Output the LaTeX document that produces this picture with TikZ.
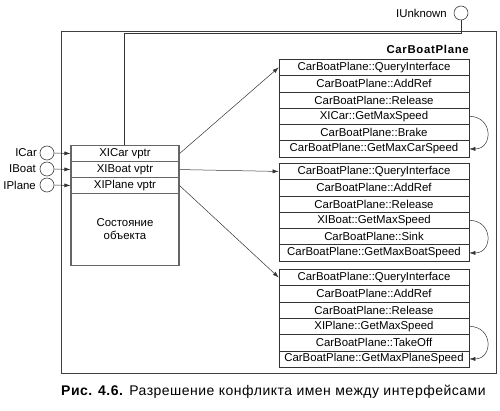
\documentclass[tikz,border=0pt]{standalone}
\usepackage{fontspec}
\setmainfont{Liberation Sans}
\newfontfamily\spacedfont[LetterSpace=6]{Liberation Sans}
\newfontfamily\capfont[LetterSpace=3.5]{Liberation Sans}
\usetikzlibrary{arrows.meta,calc}
\begin{document}
\begin{tikzpicture}[x=1pt,y=-1pt,
  lbl/.style={font=\fontsize{11.4}{13}\selectfont, inner sep=0pt},
  row/.style={draw=black!80, line width=0.6pt, minimum width=190pt, minimum height=16.3pt, inner sep=0pt, anchor=north, font=\fontsize{11.4}{13}\selectfont},
  vrow/.style={draw=black!60, line width=1.1pt, minimum width=108pt, minimum height=16pt, inner sep=0pt, anchor=north, font=\fontsize{11.4}{13}\selectfont},
  iface/.style={circle, draw=black!75, line width=0.6pt, minimum size=14pt, inner sep=0pt},
  arr/.style={-{Latex[length=6pt,width=4pt]}, line width=0.5pt, draw=black!80},
  frame/.style={draw=black!75, line width=0.7pt}
]
\useasboundingbox (0,0) rectangle (500,411);
% outer frame
\draw[frame] (61,31) rectangle (496,373);
\node[lbl, font=\spacedfont\bfseries\fontsize{11.4}{13}\selectfont, anchor=east] (title) at (469,49.5) {CarBoatPlane};
% IUnknown
\node[iface] (iu) at (461,13) {};
\node[lbl, anchor=east] (iul) at (447,13) {IUnknown};
% object box
\node[vrow] (vr1) at (125,145) {XICar vptr};
\node[vrow] (vr2) at (125,161) {XIBoat vptr};
\node[vrow] (vr3) at (125,177) {XIPlane vptr};
\node[vrow, minimum height=72pt, align=center] (st) at (125,193) {Состояние\\объекта};
% IUnknown connector
\coordinate (c1) at (124,33);
\draw[line width=0.6pt, black!80] (iu.south) |- (c1) -- (c1 |- vr1.north);
% interfaces
\node[iface] (ic) at (47,153) {};
\node[iface] (ib) at (47,169) {};
\node[iface] (ip) at (47,185) {};
\node[lbl, anchor=east] (icl) at (37,153) {ICar};
\node[lbl, anchor=east] (ibl) at (36,169) {IBoat};
\node[lbl, anchor=east] (ipl) at (36,185) {IPlane};
\draw[arr] (ic.east) -- (vr1.west);
\draw[arr] (ib.east) -- (vr2.west);
\draw[arr] (ip.east) -- (vr3.west);
% tables
\foreach \t/\top/\i/\m/\l in {1/59/XICar/Brake/Car, 2/163/XIBoat/Sink/Boat, 3/269/XIPlane/TakeOff/Plane}{
  \node[row] (t\t r1) at (374,\top) {CarBoatPlane::QueryInterface};
  \node[row] (t\t r2) at (374,{\top+16.3}) {CarBoatPlane::AddRef};
  \node[row] (t\t r3) at (374,{\top+32.6}) {CarBoatPlane::Release};
  \node[row] (t\t r4) at (374,{\top+48.9}) {\i::GetMaxSpeed};
  \node[row] (t\t r5) at (374,{\top+65.2}) {CarBoatPlane::\m};
  \node[row] (t\t r6) at (374,{\top+81.5}) {CarBoatPlane::GetMax\l Speed};
  \draw[arr] (t\t r4.east) .. controls +(24,0) and +(24,0) .. (t\t r6.east);
}
\draw[arr] (vr1.east) -- (t1r1.west);
\draw[arr] (vr2.east) -- (t2r1.west);
\draw[arr] (vr3.east) -- (t3r1.west);
% caption
\node[anchor=west, inner sep=0pt, font=\capfont\fontsize{14}{16}\selectfont] (cap) at (61,392) {\textbf{Рис. 4.6.} Разрешение конфликта имен между интерфейсами};
\end{tikzpicture}
\end{document}
